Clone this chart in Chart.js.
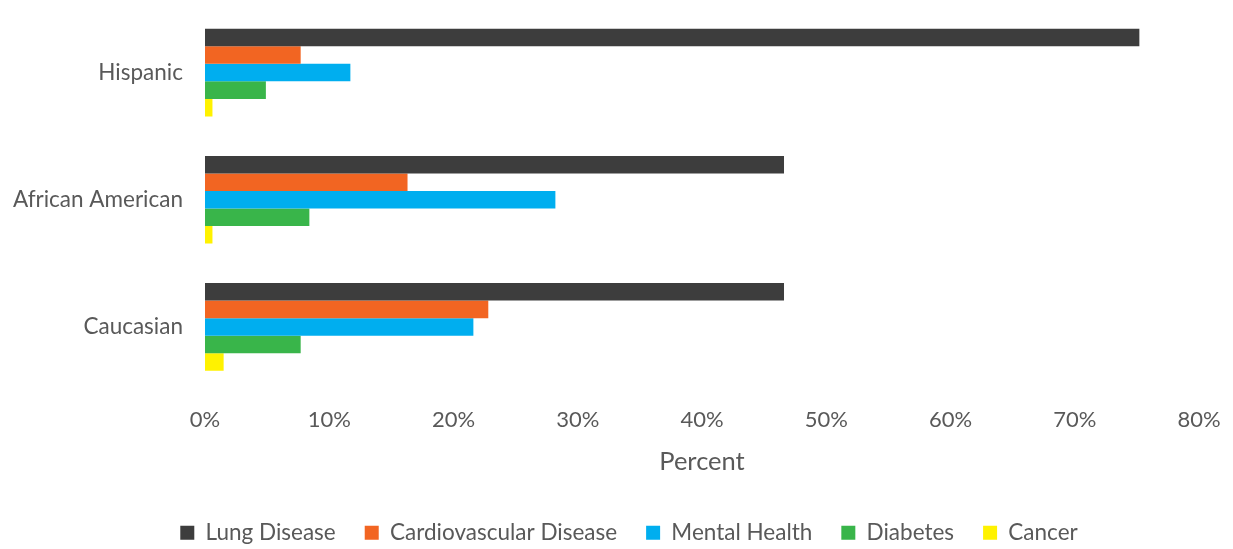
<!DOCTYPE html>
<html>
<head>
<meta charset="utf-8">
<script src="https://cdn.jsdelivr.net/npm/chart.js@4.4.0/dist/chart.umd.min.js"></script>
<style>
  html, body { margin: 0; padding: 0; background: #fff; }
  #wrap { width: 1233px; height: 549px; position: relative; }
</style>
</head>
<body>
<div id="wrap"><canvas id="chart"></canvas></div>
<script>
// Disease prevalence by ethnicity (percent)
const categories = ['Hispanic', 'African American', 'Caucasian'];
const seriesNames = ['Lung Disease', 'Cardiovascular Disease', 'Mental Health', 'Diabetes', 'Cancer'];
const lungDisease = [75.2, 46.6, 46.6];
const cardiovascular = [7.7, 16.3, 22.8];
const mentalHealth = [11.7, 28.2, 21.6];
const diabetes = [4.9, 8.4, 7.7];
const cancer = [0.6, 0.6, 1.5];
const xTicks = [0, 10, 20, 30, 40, 50, 60, 70, 80];

const colors = ['#3d3d3d', '#f26522', '#00aeef', '#39b54a', '#fff200'];
const FONT = 'Lato, "Noto Sans", sans-serif';
const TEXT = '#595959';

const values = [lungDisease, cardiovascular, mentalHealth, diabetes, cancer];

// legend in the original sits a little right of centre
const legendShift = {
  id: 'legendShift',
  afterLayout(chart) {
    if (chart.legend) chart.legend.left += 25;
  }
};

const ctx = document.getElementById('chart').getContext('2d');
new Chart(ctx, {
  type: 'bar',
  data: {
    labels: categories,
    datasets: seriesNames.map((name, i) => ({
      label: name,
      data: values[i],
      backgroundColor: colors[i],
      borderWidth: 0,
      barPercentage: 1.0,
      categoryPercentage: 0.69
    }))
  },
  options: {
    indexAxis: 'y',
    responsive: true,
    maintainAspectRatio: false,
    animation: false,
    layout: { padding: { top: 9, right: 0, left: 0, bottom: -5 } },
    plugins: {
      legend: {
        position: 'bottom',
        labels: {
          color: TEXT,
          font: { family: FONT, size: 22.5 },
          boxWidth: 14,
          boxHeight: 14,
          padding: 29
        }
      },
      tooltip: { enabled: false }
    },
    scales: {
      x: {
        min: 0,
        max: 80,
        afterBuildTicks: (scale) => {
          scale.ticks = xTicks.map(v => ({ value: v }));
        },
        afterFit: (scale) => {
          scale.height = 102;
          scale.paddingLeft = 0;
          scale.paddingRight = 34;
        },
        ticks: {
          color: TEXT,
          font: { family: FONT, size: 22 },
          padding: 16,
          maxRotation: 0,
          callback: (v) => v + '%'
        },
        grid: { display: false, drawTicks: false },
        border: { display: false },
        title: {
          display: true,
          text: 'Percent',
          color: TEXT,
          font: { family: FONT, size: 25.5 },
          padding: { top: 14, bottom: 15 }
        }
      },
      y: {
        afterFit: (scale) => {
          scale.width = 205;
          scale.paddingTop = 0;
          scale.paddingBottom = 0;
        },
        ticks: {
          color: TEXT,
          font: { family: FONT, size: 22.5 },
          padding: 22
        },
        grid: { display: false, drawTicks: false },
        border: { display: false }
      }
    }
  },
  plugins: [legendShift]
});
</script>
</body>
</html>
